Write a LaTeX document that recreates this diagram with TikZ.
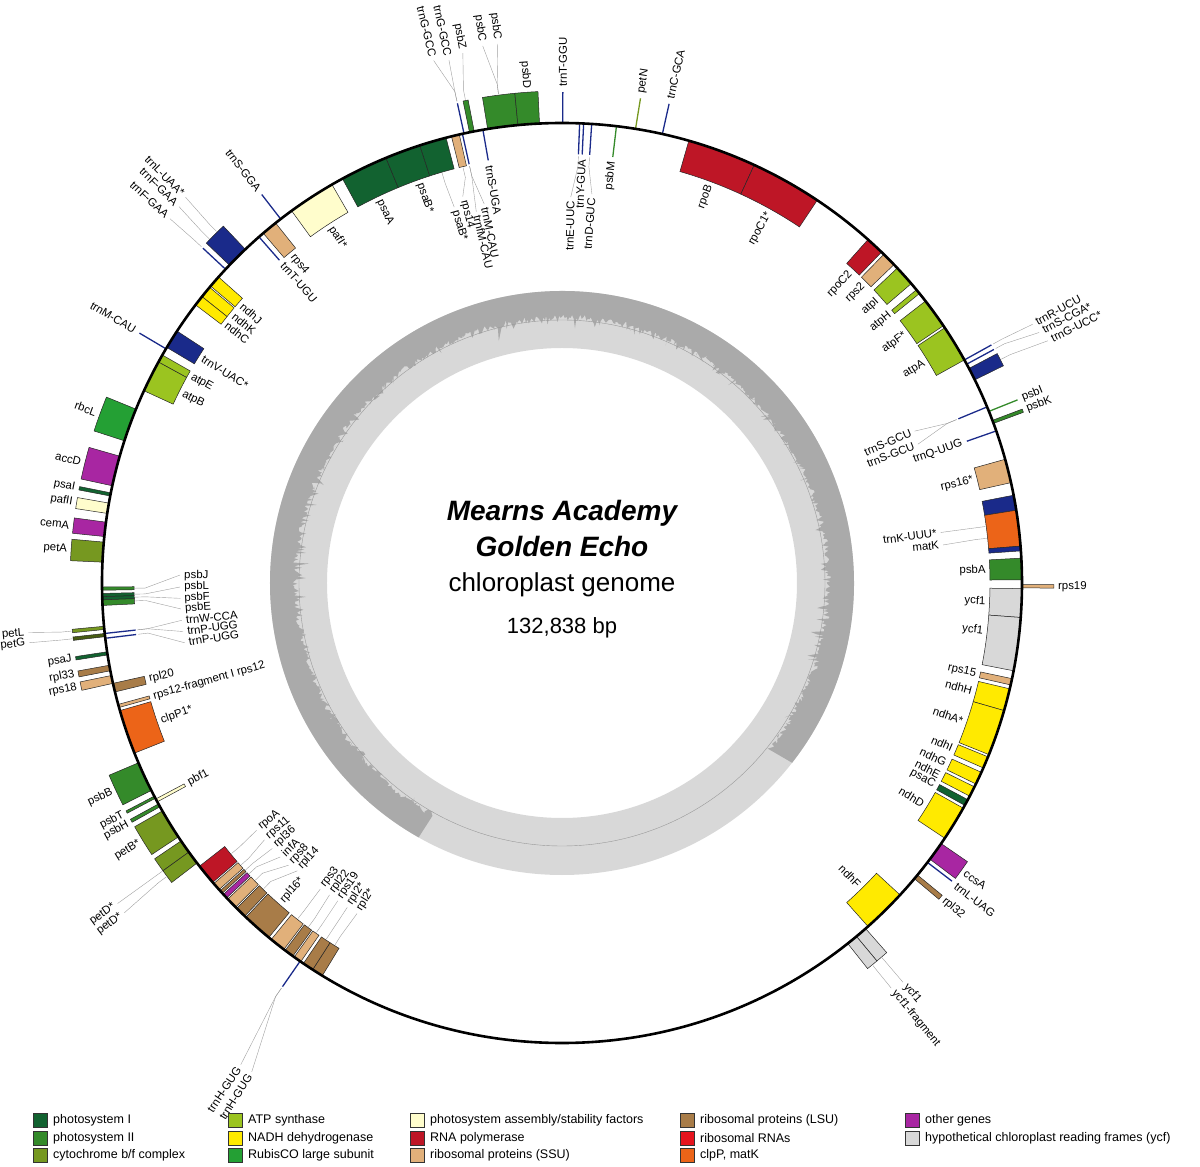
\documentclass[tikz,border=0pt]{standalone}
\usepackage{fontspec}
\setmainfont{Liberation Sans}
\definecolor{cPSI}{RGB}{18,98,48}
\definecolor{cPSII}{RGB}{52,138,42}
\definecolor{cCYT}{RGB}{118,152,32}
\definecolor{cATP}{RGB}{155,196,32}
\definecolor{cNDH}{RGB}{255,234,0}
\definecolor{cRBC}{RGB}{36,160,52}
\definecolor{cPAF}{RGB}{255,253,204}
\definecolor{cRPO}{RGB}{190,22,38}
\definecolor{cSSU}{RGB}{225,176,122}
\definecolor{cLSU}{RGB}{168,124,72}
\definecolor{cRRN}{RGB}{230,20,30}
\definecolor{cCLP}{RGB}{236,100,24}
\definecolor{cOTH}{RGB}{168,38,162}
\definecolor{cYCF}{RGB}{216,216,216}
\definecolor{cTRN}{RGB}{26,42,138}
\definecolor{gcdark}{RGB}{170,170,170}
\definecolor{gclight}{RGB}{216,216,216}
\tikzset{x=1pt,y=1pt,
  gene/.style={draw=black!85,line width=0.5pt},
  lab/.style={font=\fontsize{11.4}{13}\selectfont,inner sep=1pt},
  leader/.style={draw=gray!75,line width=0.4pt}}
\newcommand\gbox[5]{\filldraw[gene,fill=#5] (#1:#3) arc[start angle=#1,end angle=#2,radius=#3pt] -- (#2:#4) arc[start angle=#2,end angle=#1,radius=#4pt] -- cycle;}
\newcommand\go[3]{\gbox{#1}{#2}{460}{492}{#3}}
\newcommand\gi[3]{\gbox{#1}{#2}{428}{460}{#3}}
\newcommand\tko[2]{\draw[line width=1.3pt,#2] (#1:461) -- (#1:491);}
\newcommand\tki[2]{\draw[line width=1.3pt,#2] (#1:429) -- (#1:459);}
\newcommand\olbl[3]{\pgfmathsetmacro\lblc{cos(#1)}\ifdim\lblc pt>0pt\relax
  \node[lab,rotate=#1,anchor=west] at (#1:#2) {#3};\else
  \node[lab,rotate=#1-180,anchor=east] at (#1:#2) {#3};\fi}
\newcommand\ilbl[3]{\pgfmathsetmacro\lblc{cos(#1)}\ifdim\lblc pt>0pt\relax
  \node[lab,rotate=#1,anchor=east] at (#1:#2) {#3};\else
  \node[lab,rotate=#1-180,anchor=west] at (#1:#2) {#3};\fi}
\newcommand\lo[2]{\olbl{#1}{495}{#2}}
\newcommand\li[2]{\ilbl{#1}{425}{#2}}
\newcommand\llo[4]{\draw[leader] (#1:493) -- (#1:503) -- (#2:{#3-3});\olbl{#2}{#3}{#4}}
\newcommand\lli[4]{\draw[leader] (#1:427) -- (#1:417) -- (#2:{#3+3});\ilbl{#2}{#3}{#4}}
\newcommand\legitem[4]{\fill[draw=black!80,line width=0.4pt,fill=#3] (#1,#2) rectangle ++(14,14);
  \node[anchor=west,font=\fontsize{12.5}{14}\selectfont,inner sep=0pt] at (#1+20,#2+7) {#4};}
\begin{document}
\begin{tikzpicture}
\useasboundingbox (-562,-584) rectangle (638,583);
% GC ring
\fill[gclight,even odd rule] (0,0) circle[radius=292pt] (0,0) circle[radius=235pt];
\pgfmathsetseed{7}
\fill[gcdark] (-38:292) arc[start angle=-38,end angle=240.6,radius=292pt] -- plot[domain=240.6:-38,samples=900] (\x:{270-6*rnd-16*rnd*rnd*rnd}) -- cycle;
\draw[gray!80,line width=0.4pt] (0,0) circle[radius=263pt];
% centre text
\node (t1) at (0,70) {\fontsize{28}{32}\selectfont\bfseries\itshape Mearns Academy};
\node (t2) at (0,36) {\fontsize{28}{32}\selectfont\bfseries\itshape Golden Echo};
\node (t3) at (0,-2) {\fontsize{26}{30}\selectfont chloroplast genome};
\node (t4) at (0,-45) {\fontsize{22}{26}\selectfont 132,838 bp};
% ---- top
\go{95.5}{99.3}{cPSII}\go{92.8}{95.5}{cPSII}
\lo{94.1}{psbD}\llo{97.4}{98.4}{546}{psbC}\llo{97.4}{96.8}{546}{psbC}
\go{101.0}{101.6}{cPSII}\llo{101.3}{100.6}{542}{psbZ}
\tko{102.3}{cTRN}\llo{102.3}{103.8}{541}{trnG-GCC}\llo{102.3}{102.2}{538}{trnG-GCC}
\tko{89.9}{cTRN}\lo{89.9}{trnT-GGU}
\tko{80.8}{cCYT}\lo{80.8}{petN}
\tko{77.4}{cTRN}\lo{77.4}{trnC-GCA}
\gi{112.5}{118.5}{cPSI}\li{115.5}{psaA}
\gi{108}{112.5}{cPSI}\gi{104.6}{108}{cPSI}\li{109.6}{psaB*}\lli{106.3}{106.0}{388}{psaB*}
\gi{102.9}{103.9}{cSSU}\lli{103.4}{104.4}{396}{rps14}
\tki{102.5}{cTRN}\lli{102.5}{103.0}{378}{trnfM-CAU}\lli{102.5}{101.6}{384}{trnM-CAU}
\tki{99.9}{cTRN}\li{99.9}{trnS-UGA}
\tki{87.8}{cTRN}\tki{87.3}{cTRN}\tki{86.3}{cTRN}
\li{87.3}{trnY-GUA}\lli{87.8}{88.7}{383}{trnE-UUC}\lli{86.3}{85.6}{387}{trnD-GUC}
\tki{83.2}{cPSII}\li{83.2}{psbM}
\gi{65.3}{74.0}{cRPO}\li{69.6}{rpoB}
\gi{56.3}{65.3}{cRPO}\li{60.8}{rpoC1*}
% ---- right
\gi{46.0}{48.3}{cRPO}\li{47.1}{rpoC2}
\gi{43.8}{45.6}{cSSU}\li{44.7}{rps2}
\gi{40.6}{43.2}{cATP}\li{41.9}{atpI}
\gi{39.0}{39.6}{cATP}\li{39.3}{atpH}
\gi{34.0}{37.8}{cATP}\li{35.9}{atpF*}
\gi{29.0}{33.7}{cATP}\li{31.3}{atpA}
\tko{29.0}{cTRN}\tko{28.4}{cTRN}\go{26.2}{27.8}{cTRN}
\llo{29.0}{28.8}{540}{trnR-UCU}\llo{28.4}{27.7}{542}{trnS-CGA*}\llo{27.0}{26.5}{546}{trnG-UCC*}
\tko{21.9}{cPSII}\lo{21.9}{psbI}
\go{20.3}{20.7}{cPSII}\lo{20.5}{psbK}
\tki{22.5}{cTRN}\lli{22.5}{23.3}{381}{trnS-GCU}\lli{22.5}{21.3}{379}{trnS-GCU}
\tki{19.3}{cTRN}\li{19.3}{trnQ-UUG}
\gi{12.6}{15.6}{cSSU}\li{14.1}{rps16*}
\gi{9.1}{11.0}{cTRN}\gi{4.6}{9.1}{cCLP}\gi{4.0}{4.6}{cTRN}
\lli{7.6}{7.6}{379}{trnK-UUU*}\lli{6.0}{5.7}{380}{matK}
\gi{0.4}{3.1}{cPSII}\li{1.75}{psbA}
\go{-0.6}{-0.2}{cSSU}\lo{-0.4}{rps19}
\gi{-4.3}{-0.7}{cYCF}\gi{-11}{-4.3}{cYCF}\li{-2.5}{ycf1}\li{-6.5}{ycf1}
\gi{-12.8}{-12.0}{cSSU}\li{-12.4}{rps15}
\gi{-16.1}{-13.3}{cNDH}\li{-14.7}{ndhH}
\gi{-21.9}{-16.1}{cNDH}\li{-19.0}{ndhA*}
\gi{-23.7}{-22.2}{cNDH}\li{-22.9}{ndhI}
\gi{-25.9}{-24.3}{cNDH}\li{-25.1}{ndhG}
\gi{-27.6}{-26.3}{cNDH}\li{-27.0}{ndhE}
\gi{-28.9}{-28.1}{cPSI}\li{-28.5}{psaC}
\gi{-33.7}{-29.3}{cNDH}\li{-31.5}{ndhD}
\go{-36.9}{-34.5}{cOTH}\lo{-35.7}{ccsA}
\tko{-37.4}{cTRN}\lo{-37.5}{trnL-UAG}
\go{-40.0}{-39.4}{cLSU}\lo{-39.7}{rpl32}
\gi{-48.3}{-42.7}{cNDH}\li{-45.5}{ndhF}
\go{-50.2}{-48.7}{cYCF}\go{-51.6}{-50.2}{cYCF}
\llo{-49.5}{-49.5}{528}{ycf1}\llo{-50.9}{-50.9}{525}{ycf1-fragment}
% ---- bottom left
\tko{235.3}{cTRN}\llo{235.3}{236.3}{582}{trnH-GUG}\llo{235.3}{237.6}{582}{trnH-GUG}
\gi{218.0}{220.6}{cRPO}\lli{219.3}{219.0}{390}{rpoA}
\gi{220.8}{221.8}{cSSU}\lli{221.3}{220.8}{390}{rps11}
\gi{222.0}{222.4}{cLSU}\lli{222.2}{222.5}{390}{rpl36}
\gi{222.6}{223.2}{cOTH}\lli{222.9}{224.2}{390}{infA}
\gi{223.4}{224.8}{cSSU}\lli{224.1}{225.9}{390}{rps8}
\gi{225.0}{226.4}{cLSU}\lli{225.7}{227.4}{388}{rpl14}
\gi{226.6}{230.4}{cLSU}\li{228.7}{rpl16*}
\gi{230.8}{232.8}{cSSU}\lli{231.8}{231.7}{387}{rps3}
\gi{233.0}{234.2}{cLSU}\lli{233.6}{233.3}{386}{rpl22}
\gi{234.4}{235.4}{cSSU}\lli{234.9}{234.8}{386}{rps19}
\gi{235.8}{237.2}{cLSU}\gi{237.2}{238.6}{cLSU}\lli{236.5}{236.5}{386}{rpl2*}\lli{237.9}{238.2}{386}{rpl2*}
% ---- left
\tko{127.7}{cTRN}\lo{127.7}{trnS-GGA}
\gi{120}{126}{cPAF}\li{123}{pafI*}
\gi{128.5}{130.5}{cSSU}\li{129.5}{rps4}
\tki{131.2}{cTRN}\li{131.2}{trnT-UGU}
\go{133.5}{136.3}{cTRN}\tko{137.0}{cTRN}
\llo{134.5}{134.3}{542}{trnL-UAA*}\llo{135.7}{135.5}{540}{trnF-GAA}\llo{137.0}{137.1}{538}{trnF-GAA}
\gi{138.3}{139.8}{cNDH}\gi{140.0}{141.5}{cNDH}\gi{141.5}{142.8}{cNDH}
\li{139.1}{ndhJ}\li{140.8}{ndhK}\li{142.4}{ndhC}
\gi{146.8}{149.2}{cTRN}\li{148.0}{trnV-UAC*}
\tko{149.4}{cTRN}\lo{149.4}{trnM-CAU}
\gi{150.3}{151.3}{cATP}\gi{151.3}{155.3}{cATP}\li{150.9}{atpE}\li{153.5}{atpB}
\go{157.8}{162}{cRBC}\lo{159.9}{rbcL}
\go{164}{167.8}{cOTH}\lo{165.9}{accD}
\go{168.7}{169.1}{cPSI}\lo{168.9}{psaI}
\go{170}{171.3}{cPAF}\lo{170.6}{pafII}
\go{172.4}{174.2}{cOTH}\lo{173.3}{cemA}
\go{174.9}{177.4}{cCYT}\lo{176.1}{petA}
\gi{180.5}{180.9}{cPSII}\gi{181.3}{181.7}{cPSI}\gi{181.7}{182.1}{cPSI}\gi{182.1}{182.8}{cPSII}
\lli{180.7}{178.8}{379}{psbJ}\lli{181.5}{180.6}{379}{psbL}\lli{181.9}{182.3}{379}{psbF}\lli{182.4}{183.9}{379}{psbE}
\tki{186.3}{cTRN}\tki{186.9}{cTRN}
\lli{186.3}{185.6}{379}{trnW-CCA}\lli{186.3}{187.3}{379}{trnP-UGG}\lli{186.9}{189.0}{379}{trnP-UGG}
\go{185.4}{185.8}{cCYT}\go{186.3}{186.7}{cCYT!60!black}
\llo{185.6}{185.3}{539}{petL}\llo{186.5}{186.4}{539}{petG}
\go{188.6}{189.0}{cPSI}\lo{188.8}{psaJ}
\go{190.3}{191.0}{cLSU}\lo{190.6}{rpl33}
\go{191.6}{192.6}{cSSU}\lo{192.1}{rps18}
\gi{192.6}{193.7}{cLSU}\li{193.1}{rpl20}
\gi{195.3}{195.7}{cSSU}\li{195.5}{rps12-fragment I rps12}
\gi{196.1}{201.7}{cCLP}\li{198.9}{clpP1*}
\go{203}{206.8}{cPSII}\lo{204.9}{psbB}
\gi{208.0}{208.4}{cPAF}\li{208.2}{pbf1}
\go{207.6}{207.9}{cPSII}\lo{207.8}{psbT}
\go{208.7}{209.1}{cPSII}\lo{209.0}{psbH}
\go{209.7}{213.5}{cCYT}\lo{211.6}{petB*}
\go{214.1}{215.8}{cCYT}\go{215.8}{217.5}{cCYT}
\llo{215.8}{215.8}{551}{petD*}\llo{216.6}{217.0}{551}{petD*}
% main circle
\draw[line width=2.6pt] (0,0) circle[radius=460pt];
% legend
\legitem{-529}{-544}{cPSI}{photosystem I}
\legitem{-529}{-562}{cPSII}{photosystem II}
\legitem{-529}{-579}{cCYT}{cytochrome b/f complex}
\legitem{-334}{-544}{cATP}{ATP synthase}
\legitem{-334}{-562}{cNDH}{NADH dehydrogenase}
\legitem{-334}{-579}{cRBC}{RubisCO large subunit}
\legitem{-152}{-544}{cPAF}{photosystem assembly/stability factors}
\legitem{-152}{-562}{cRPO}{RNA polymerase}
\legitem{-152}{-579}{cSSU}{ribosomal proteins (SSU)}
\legitem{118}{-544}{cLSU}{ribosomal proteins (LSU)}
\legitem{118}{-562}{cRRN}{ribosomal RNAs}
\legitem{118}{-579}{cCLP}{clpP, matK}
\legitem{343}{-544}{cOTH}{other genes}
\legitem{343}{-562}{cYCF}{hypothetical chloroplast reading frames (ycf)}
\end{tikzpicture}
\end{document}
